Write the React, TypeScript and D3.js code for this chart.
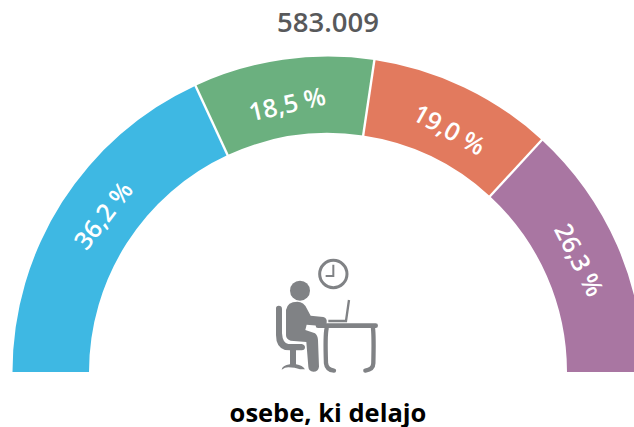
import React from "react";
import * as d3 from "d3";

const categories = ["a", "b", "c", "d"];
const shares = [36.2, 18.5, 19.0, 26.3];
const labels = ["36,2 %", "18,5 %", "19,0 %", "26,3 %"];
const colors = ["#3eb8e3", "#6bb07f", "#e27a5e", "#a976a2"];
const total = "583.009";
const caption = "osebe, ki delajo";
// Hand placement of the labels relative to each slice's middle, in degrees
const labelAngleNudge = [2.3, -0.5, 1, -0.4];
const labelRotateNudge = [5.4, -4.8, 3.4, -3.3];
const labelRadius = [274, 271, 271, 275];

const FONT = "'Open Sans', sans-serif";
const W = 634, H = 427, CX = 328, CY = 372, RO = 315.5, RI = 239;

function Icon() {
  const c = "#808285";
  return (
    <g transform="translate(260,250) scale(0.3333)" fill={c} stroke="none">
      <circle cx={220} cy={72} r={41} fill="none" stroke={c} strokeWidth={9} />
      <path d="M220 44V78H197" fill="none" stroke={c} strokeWidth={6} />
      <circle cx={120} cy={122} r={30} />
      <path d="M78 180 Q82 155 112 155 Q132 156 140 175 L152 197 L190 201 Q202 204 200 218 Q198 228 185 228 L140 224 L136 240 L165 250 Q173 256 174 270 L177 350 Q175 365 160 365 Q146 364 145 350 L139 276 L92 272 Q78 268 78 255 Z" />
      <path d="M48 175 Q48 167 56 167 Q66 167 66 177 L66 250 Q68 280 85 282 L125 282 Q135 284 135 292 Q135 301 125 301 L108 301 L108 343 Q128 346 135 358 L120 358 Q105 352 85 352 Q75 352 65 359 Q66 347 90 343 L90 301 L75 300 Q48 292 48 255 Z" />
      <path d="M174 227 H347" fill="none" stroke={c} strokeWidth={14} strokeLinecap="round" />
      <path d="M200 235 Q195 255 198 340 Q200 360 222 362" fill="none" stroke={c} strokeWidth={13} strokeLinecap="round" />
      <path d="M339 235 Q342 260 340 340 Q340 358 316 362" fill="none" stroke={c} strokeWidth={13} strokeLinecap="round" />
      <path d="M205 213 H258 L267 150" fill="none" stroke={c} strokeWidth={7} />
    </g>
  );
}

export default function App() {
  const pie = d3.pie<number>().sort(null).startAngle(-Math.PI / 2).endAngle(Math.PI / 2);
  const arc = d3.arc<d3.PieArcDatum<number>>().innerRadius(RI).outerRadius(RO);
  const arcs = pie(shares);
  const deg = 180 / Math.PI;
  return (
    <svg width={W} height={H} style={{ position: "absolute", left: 0, top: 0 }}>
      <g transform={`translate(${CX},${CY})`}>
        {arcs.map((a, i) => (
          <path key={categories[i]} d={arc(a) ?? ""} fill={colors[i]} />
        ))}
        {arcs.slice(1).map((a) => {
          const s = Math.sin(a.startAngle), k = -Math.cos(a.startAngle);
          return (
            <line key={a.index} x1={s * (RI - 1)} y1={k * (RI - 1)} x2={s * (RO + 1)} y2={k * (RO + 1)}
              stroke="#fff" strokeWidth={2.4} />
          );
        })}
        {arcs.map((a, i) => {
          const mid = ((a.startAngle + a.endAngle) / 2) * deg;
          const t = (mid + labelAngleNudge[i]) / deg;
          const r = labelRadius[i];
          return (
            <text key={labels[i]}
              transform={`translate(${Math.sin(t) * r},${-Math.cos(t) * r}) rotate(${mid + labelRotateNudge[i]})`}
              textAnchor="middle" dy="0.36em" fontFamily={FONT} fontWeight={600} fontSize={25} fill="#fff">
              {labels[i]}
            </text>
          );
        })}
      </g>
      <text x={CX} y={32} textAnchor="middle" fontFamily={FONT} fontWeight={600} fontSize={27.5} fill="#58595b">{total}</text>
      <Icon />
      <text x={CX} y={421.5} textAnchor="middle" fontFamily={FONT} fontWeight={700} fontSize={25.5} fill="#000">{caption}</text>
    </svg>
  );
}
